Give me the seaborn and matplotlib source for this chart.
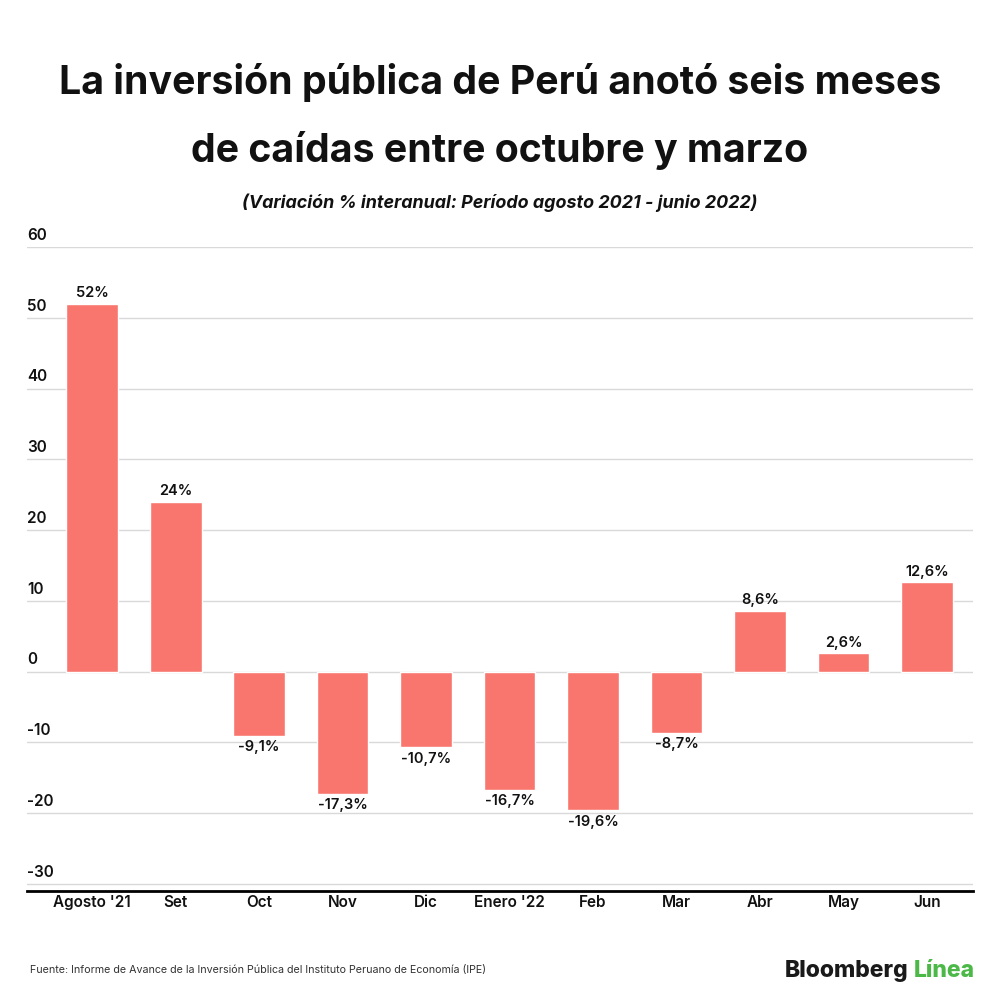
import numpy as np
import pandas as pd
import matplotlib.pyplot as plt
import seaborn as sns

# datos
meses = ["Agosto '21", "Set", "Oct", "Nov", "Dic", "Enero '22", "Feb", "Mar", "Abr", "May", "Jun"]
variacion = [52, 24, -9.1, -17.3, -10.7, -16.7, -19.6, -8.7, 8.6, 2.6, 12.6]
etiquetas = ["52%", "24%", "-9,1%", "-17,3%", "-10,7%", "-16,7%", "-19,6%", "-8,7%", "8,6%", "2,6%", "12,6%"]
yticks = [-30, -20, -10, 0, 10, 20, 30, 40, 50, 60]

df = pd.DataFrame({"mes": meses, "var": variacion})

sns.set_style("white")
plt.rcParams['font.family'] = ['Inter', 'DejaVu Sans']

fig = plt.figure(figsize=(10, 10), dpi=100)
ax = fig.add_axes([0.027, 0.109, 0.946, 0.644])

sns.barplot(data=df, x="mes", y="var", color="#F8766D", saturation=1, width=0.62, ax=ax)

ax.set_ylim(-31, 60)
ax.set_xlim(-0.78, 10.55)
ax.set_yticks(yticks)
ax.set_yticklabels([])
for v in yticks:
    ax.axhline(v, color="#d9d9d9", lw=1, zorder=0)
    ax.text(0.0, v + 0.6, str(v), transform=ax.get_yaxis_transform(), fontsize=11,
            fontweight="semibold", ha="left", va="bottom", color="#111111")
ax.tick_params(axis="y", length=0)
ax.tick_params(axis="x", length=0, pad=3)
for lab in ax.get_xticklabels():
    lab.set_fontsize(11)
    lab.set_fontweight("semibold")
    lab.set_color("#111111")
ax.set_xlabel("")
ax.set_ylabel("")
for s in ["top", "right", "left"]:
    ax.spines[s].set_visible(False)
ax.spines["bottom"].set_color("black")
ax.spines["bottom"].set_linewidth(2)

for i, (v, t) in enumerate(zip(variacion, etiquetas)):
    if v >= 0:
        ax.text(i, v + 0.5, t, ha="center", va="bottom", fontsize=10.5, fontweight="semibold", color="#111111")
    else:
        ax.text(i, v - 0.6, t, ha="center", va="top", fontsize=10.5, fontweight="semibold", color="#111111")

fig.text(0.5, 0.917, "La inversión pública de Perú anotó seis meses", ha="center", va="center",
         fontsize=28.3, fontweight="bold", color="#111111")
fig.text(0.5, 0.849, "de caídas entre octubre y marzo", ha="center", va="center",
         fontsize=28.3, fontweight="bold", color="#111111")
fig.text(0.5, 0.797, "(Variación % interanual: Período agosto 2021 - junio 2022)", ha="center",
         va="center", fontsize=12.9, fontweight="bold", style="italic", color="#111111")

fig.text(0.03, 0.03, "Fuente: Informe de Avance de la Inversión Pública del Instituto Peruano de Economía (IPE)",
         ha="left", va="center", fontsize=7.7, color="#333333")
fig.text(0.908, 0.029, "Bloomberg", ha="right", va="center", fontsize=16.5, fontweight="heavy", color="#1a1a1a")
fig.text(0.914, 0.029, "Línea", ha="left", va="center", fontsize=16.5, fontweight="heavy", color="#4cb848")

fig.savefig("out.png", dpi=100, facecolor="white")
